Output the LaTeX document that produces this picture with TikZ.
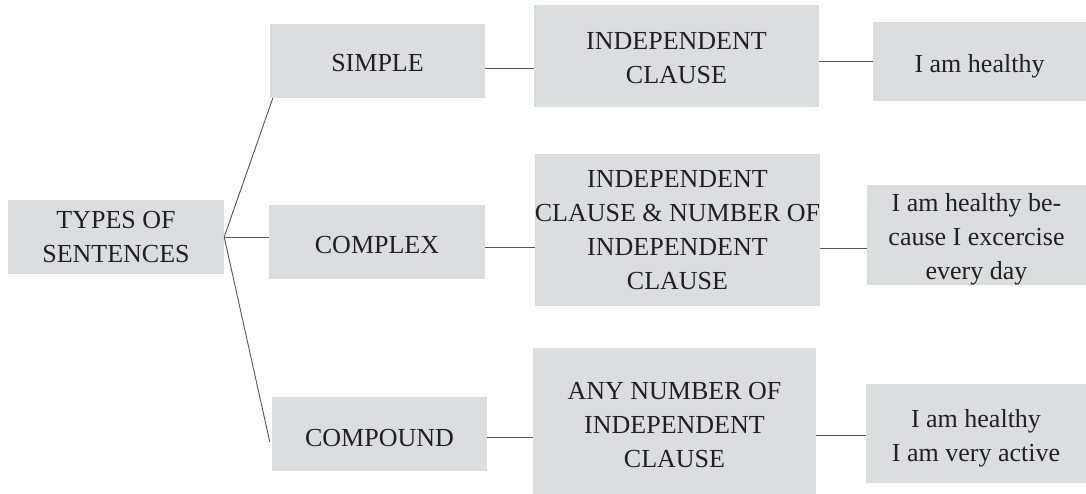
\documentclass[tikz,border=0pt]{standalone}
\usepackage{fontspec}
\setmainfont{Liberation Serif}
\usetikzlibrary{positioning}
\definecolor{boxgray}{RGB}{220,221,223}
\definecolor{linegray}{RGB}{85,85,85}
\definecolor{textgray}{RGB}{35,31,32}
\newcommand{\topgap}[1]{\rule{0pt}{#1}}
\tikzset{
  sortbox/.style={fill=boxgray, text=textgray, align=center, inner sep=0pt,
    font=\fontsize{26}{34}\selectfont},
  link/.style={draw=linegray, line width=0.9pt},
}
\begin{document}
\begin{tikzpicture}[x=1pt,y=-1pt]
        \useasboundingbox (0,0) rectangle (1086,494);

        % root
        \node[sortbox, minimum width=216pt, minimum height=74pt] (types) at (116,237) {TYPES OF\\SENTENCES};

        % kinds
        \node[sortbox, minimum width=215pt, minimum height=74pt] (simple) at (377.5,61) {\topgap{21pt}SIMPLE};
        \node[sortbox, minimum width=216pt, minimum height=74pt] (complex) at (377,242) {\topgap{24pt}COMPLEX};
        \node[sortbox, minimum width=215pt, minimum height=74pt] (compound) at (379.5,434) {\topgap{26pt}COMPOUND};

        % clauses
        \node[sortbox, minimum width=285pt, minimum height=102pt] (clause1) at (676.5,56) {\topgap{21pt}INDEPENDENT\\CLAUSE};
        \node[sortbox, minimum width=285pt, minimum height=152pt] (clause2) at (677.5,230) {INDEPENDENT\\CLAUSE \& NUMBER OF\\INDEPENDENT\\CLAUSE};
        \node[sortbox, minimum width=283pt, minimum height=146pt] (clause3) at (674.5,421) {\topgap{26pt}ANY NUMBER OF\\INDEPENDENT\\CLAUSE};

        % examples
        \node[sortbox, minimum width=213pt, minimum height=79pt] (example1) at (979.5,61.5) {\topgap{27pt}I am healthy};
        \node[sortbox, minimum width=219pt, minimum height=100pt] (example2) at (976.5,235) {\topgap{27pt}I am healthy be-\\cause I excercise\\every day};
        \node[sortbox, minimum width=220pt, minimum height=99pt] (example3) at (976,433.5) {\topgap{27pt}I am healthy\\I am very active};

        \draw[link] (types.east) -- ([xshift=3pt]simple.south west);
        \draw[link] (types.east) -- (types.east -| complex.west);
        \draw[link] (types.east) -- ([xshift=-2pt,yshift=-8pt]compound.west);

        \draw[link] ([yshift=-7pt]simple.east) -- ([yshift=-7pt]simple.east -| clause1.west);
        \draw[link] ([yshift=-5pt]complex.east) -- ([yshift=-5pt]complex.east -| clause2.west);
        \draw[link] ([yshift=-3pt]compound.east) -- ([yshift=-3pt]compound.east -| clause3.west);

        \draw[link] (clause1.east |- example1.west) -- (example1.west);
        \draw[link] ([yshift=-13pt]example2.west -| clause2.east) -- ([yshift=-13pt]example2.west);
        \draw[link] ([yshift=-2pt]example3.west -| clause3.east) -- ([yshift=-2pt]example3.west);

\end{tikzpicture}
\end{document}
